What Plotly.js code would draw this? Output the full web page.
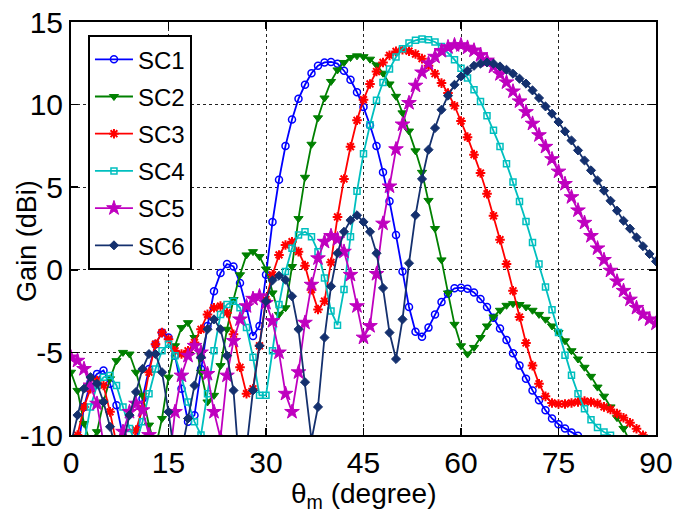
<!DOCTYPE html>
<html>
<head>
<meta charset="utf-8">
<script src="https://cdn.plot.ly/plotly-3.0.1.min.js"></script>
<style>html,body{margin:0;padding:0;background:#fff;}#chart{width:687px;height:512px;}</style>
</head>
<body>
<div id="chart"></div>
<script>
// theta_m in degrees, 1-degree steps
const theta = Array.from({length: 91}, (_, i) => i);

const seriesNames = ["SC1", "SC2", "SC3", "SC4", "SC5", "SC6"];

const sc1 = [-13,-11,-8.3,-6.8,-6.3,-6.1,-6.9,-8.2,-10.1,-12.5,
  -10.8,-7.8,-6.0,-4.5,-3.8,-4.1,-5.2,-7.2,-9.2,-8.8,
  -6.0,-3.4,-1.3,-0.2,0.35,0.2,-0.8,-2.3,-4.0,-3.4,
  -0.3,2.9,5.45,7.5,9.1,10.35,11.2,11.9,12.35,12.55,
  12.58,12.48,12.05,11.5,10.75,9.85,8.75,7.5,5.9,4.15,
  2.1,-0.1,-2.25,-3.75,-4.05,-3.5,-2.7,-1.95,-1.45,-1.12,
  -1.08,-1.14,-1.37,-1.77,-2.25,-2.9,-3.55,-4.25,-5.05,-5.8,
  -6.6,-7.3,-7.9,-8.5,-9.0,-9.35,-9.6,-9.85,-10.05,-10.4,
  -10.8,-11.2,-11.6,-12,-12.4,-12.8,-13.2,-13.6,-14,-14.4,-14.8];

const sc2 = [-6.2,-7.3,-9.3,-10.5,-9.8,-8.0,-6.6,-5.5,-5.0,-5.1,
  -6.2,-7.6,-9.4,-10.8,-9.0,-6.5,-4.6,-3.5,-3.2,-4.1,
  -6.2,-8.0,-7.6,-5.8,-3.6,-1.8,-0.3,0.9,1.1,0.8,
  0.05,-1.4,-2.7,-2.3,0.2,3.1,5.6,7.6,9.2,10.4,
  11.4,12.1,12.55,12.85,12.95,12.9,12.75,12.4,11.9,11.25,
  10.5,9.5,8.4,7.2,5.9,4.2,2.5,0.6,-1.4,-3.3,
  -4.6,-5.1,-4.7,-4.1,-3.4,-2.85,-2.45,-2.15,-2.05,-2.1,
  -2.25,-2.45,-2.7,-3.0,-3.4,-3.8,-4.3,-4.9,-5.4,-5.9,
  -6.45,-7.1,-7.65,-8.3,-8.95,-9.6,-10.4,-11,-11.5,-12,-12.5];

const sc3 = [-11.5,-10.0,-8.3,-7.2,-6.7,-7.0,-8.6,-10.6,-12.5,-11.5,
  -9.7,-8.4,-6.2,-4.5,-3.8,-4.2,-4.9,-5.1,-4.9,-4.4,
  -3.6,-2.7,-2.3,-2.2,-2.6,-3.9,-5.9,-7.5,-7.2,-4.6,
  -1.8,-0.3,0.9,1.5,1.7,1.1,0.25,-1.2,-2.4,-1.9,
  0.45,3.2,5.5,7.45,9.05,10.3,11.25,12.0,12.55,12.98,
  13.22,13.32,13.24,13.06,12.78,12.35,11.87,11.3,10.7,9.93,
  9.0,8.03,6.97,5.86,4.6,3.27,1.82,0.35,-1.27,-2.86,
  -4.43,-5.8,-6.9,-7.66,-8.06,-8.12,-8.12,-8.06,-8.0,-7.95,
  -8.0,-8.1,-8.3,-8.45,-8.7,-8.96,-9.26,-9.62,-10.02,-10.5,-11];

const sc4 = [-13,-12,-10.5,-8.3,-7.0,-6.5,-6.4,-7.0,-8.3,-9.6,
  -10.5,-9.2,-7.5,-6.0,-4.9,-4.5,-5.2,-6.5,-8.0,-9.2,
  -10.0,-7.5,-4.9,-2.7,-2.1,-1.9,-2.3,-3.5,-5.3,-7.6,
  -7.6,-4.9,-2.1,-0.1,1.3,2.1,2.3,2.0,1.1,-0.5,
  -2.5,-3.35,-1.2,2.0,4.75,7.03,8.78,10.26,11.34,12.15,
  12.88,13.38,13.73,13.89,13.97,13.93,13.79,13.52,13.12,12.72,
  12.2,11.61,10.9,10.19,9.33,8.44,7.47,6.42,5.31,4.14,
  2.93,1.65,0.35,-1.04,-2.42,-3.79,-5.18,-6.39,-7.5,-8.41,
  -9.07,-9.54,-9.82,-10.02,-10.5,-11,-11.5,-12,-12.5,-13,-13.5];

const sc5 = [-5.3,-5.5,-6.0,-7.0,-8.1,-10.5,-12,-11,-9.8,-8.6,
  -8.1,-8.5,-10.0,-12,-13,-12,-8.6,-6.4,-5.2,-4.6,
  -5.0,-6.3,-8.6,-10.2,-6.4,-4.3,-3.0,-2.2,-1.75,-1.6,
  -2.0,-3.1,-5.0,-7.5,-8.6,-6.2,-3.2,-0.9,0.7,1.7,
  2.05,1.85,1.1,-0.3,-2.2,-4.1,-3.4,-0.25,2.8,5.05,
  7.3,8.8,10.1,11.15,11.95,12.5,12.9,13.25,13.48,13.6,
  13.6,13.45,13.28,13.0,12.67,12.3,11.85,11.35,10.8,10.2,
  9.55,8.85,8.15,7.45,6.7,5.95,5.2,4.4,3.6,2.85,
  2.05,1.3,0.6,-0.05,-0.7,-1.27,-1.8,-2.3,-2.7,-3.0,-3.25];

const sc6 = [-10.5,-8.8,-7.2,-6.5,-6.9,-8.0,-9.5,-11,-10.5,-8.8,
  -7.4,-6.0,-5.1,-5.1,-6.2,-8.6,-11.5,-11,-9.0,-7.0,
  -5.3,-3.6,-3.0,-3.6,-5.2,-7.3,-12.5,-10.8,-7.3,-4.6,
  -1.9,-0.64,-0.36,-0.6,-1.6,-3.6,-6.8,-10.3,-8.3,-4.1,
  -1.0,1.0,2.3,3.0,3.3,2.9,2.3,1.0,-1.1,-3.8,
  -5.4,-3.0,0.4,3.3,5.5,7.27,8.58,9.69,10.54,11.2,
  11.7,12.05,12.35,12.48,12.55,12.48,12.31,12.11,11.87,11.57,
  11.27,10.86,10.4,9.89,9.45,8.95,8.38,7.83,7.23,6.62,
  6.02,5.41,4.79,4.18,3.58,2.97,2.49,1.96,1.43,0.96,0.51];

const xTicks = [0, 15, 30, 45, 60, 75, 90];
const yTicks = [-10, -5, 0, 5, 10, 15];
const xLabel = "θ<sub>m</sub> (degree)";
const yLabel = "Gain (dBi)";

const values = [sc1, sc2, sc3, sc4, sc5, sc6];
const colors = ["#0000ff", "#008000", "#ff0000", "#00bfbf", "#bf00bf", "#14306e"];
const symbols = ["circle-open", "triangle-down", "asterisk-open", "square-open", "star", "diamond"];
const sizes = [7, 8, 8, 6, 11, 7];
const mlw = [1.5, 1, 2, 1.5, 1, 1];

const traces = values.map((v, i) => ({
  x: theta,
  y: v,
  name: seriesNames[i],
  legendgroup: seriesNames[i],
  type: "scatter",
  mode: "lines+markers",
  line: {color: colors[i], width: 1.8},
  marker: {symbol: symbols[i], size: sizes[i], color: colors[i],
           line: {color: colors[i], width: mlw[i]}},
  cliponaxis: true
}));

const fontFam = "Liberation Sans, Arial, Helvetica, sans-serif";
const axisCommon = {
  showline: true, linecolor: "#000", linewidth: 2, mirror: "allticks",
  ticks: "inside", ticklen: 7, tickwidth: 1.5, tickcolor: "#000",
  showgrid: true, gridcolor: "#222", griddash: "dot", gridwidth: 1,
  zeroline: false,
  tickfont: {family: fontFam, size: 30, color: "#000"}
};

const layout = {
  width: 687, height: 512,
  margin: {l: 71, r: 31, t: 22, b: 77},
  paper_bgcolor: "#fff", plot_bgcolor: "#fff",
  font: {family: fontFam, color: "#000"},
  showlegend: true,
  legend: {
    x: 0.029, y: 0.968, xanchor: "left", yanchor: "top",
    bgcolor: "#fff", bordercolor: "#000", borderwidth: 2,
    font: {family: fontFam, size: 24, color: "#000"},
    tracegroupgap: 3, traceorder: "grouped",
    itemwidth: 38, entrywidth: 104, entrywidthmode: "pixels"
  },
  xaxis: Object.assign({}, axisCommon, {
    range: [0, 90], tickvals: xTicks, ticktext: xTicks.map(String)
  }),
  yaxis: Object.assign({}, axisCommon, {
    range: [-10, 15], tickvals: yTicks, ticktext: yTicks.map(String)
  }),
  annotations: [{
    text: yLabel, xref: "paper", yref: "paper",
    x: -44 / 585, y: 0.47, xanchor: "center", yanchor: "middle",
    textangle: -90, showarrow: false,
    font: {family: fontFam, size: 27, color: "#000"}
  }, {
    text: xLabel, xref: "paper", yref: "paper",
    x: 0.5, y: -60 / 413, xanchor: "center", yanchor: "middle",
    showarrow: false,
    font: {family: fontFam, size: 28, color: "#000"}
  }]
};

Plotly.newPlot("chart", traces, layout, {displayModeBar: false, staticPlot: true});
</script>
</body>
</html>
